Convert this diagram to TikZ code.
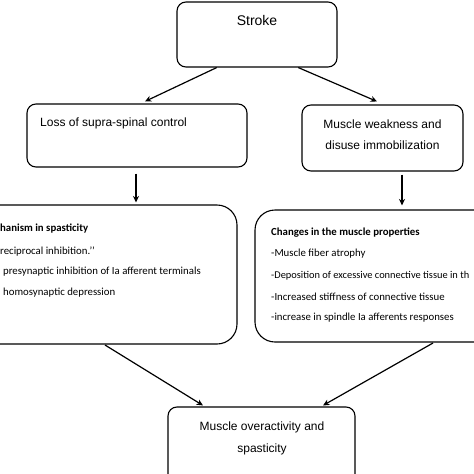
\documentclass[tikz,border=0pt]{standalone}
\usepackage{fontspec}
\setmainfont{Liberation Sans}
\newfontfamily\calfont{Carlito}
\usetikzlibrary{arrows.meta,calc}
\begin{document}
\begin{tikzpicture}[x=1pt,y=-1pt,
  box/.style={draw, line width=1.1pt, rounded corners=9pt, inner sep=0pt},
  bigbox/.style={draw, line width=1.1pt, rounded corners=20pt, inner sep=0pt},
  arr/.style={-{Stealth[length=6.5pt,width=6pt]}, line width=1.2pt},
  txt/.style={font=\fontsize{12}{14}\selectfont, inner sep=0pt},
  ctxt/.style={font=\calfont\fontsize{10.8}{12}\selectfont, inner sep=0pt, anchor=west},
  btxt/.style={font=\calfont\bfseries\fontsize{10.8}{12}\selectfont, inner sep=0pt, anchor=west}]
\useasboundingbox (0,0) rectangle (474,474);
\clip (0,0) rectangle (474,474);
% boxes
\node[box, minimum width=160pt, minimum height=65pt] (stroke) at (257,34.5) {};
\node[box, minimum width=220pt, minimum height=63pt] (loss) at (137,135.5) {};
\node[box, minimum width=161pt, minimum height=66pt] (weak) at (382.5,138) {};
\node[bigbox, minimum width=267pt, minimum height=139pt] (mech) at (103.5,274.5) {};
\node[bigbox, minimum width=245pt, minimum height=132pt] (chg) at (377.5,276) {};
\node[box, minimum width=187pt, minimum height=80pt] (over) at (261.5,447) {};
% texts
\node[txt, font=\fontsize{14}{16}\selectfont] (tstroke) at (257,20) {Stroke};
\node[txt, anchor=west] (tloss) at (40,123) {Loss of supra-spinal control};
\node[txt] (tweak1) at (382.5,124) {Muscle weakness and};
\node[txt] (tweak2) at (382.5,145.5) {disuse immobilization};
\node[txt] (tover1) at (262,427) {Muscle overactivity and};
\node[txt] (tover2) at (262,449) {spasticity};
\node[btxt] (m0) at (0,229) {hanism in spasticity};
\node[ctxt] (m1) at (0,252) {reciprocal inhibition.’’};
\node[ctxt] (m2) at (3,272) {presynaptic inhibition of Ia afferent terminals};
\node[ctxt] (m3) at (3,293) {homosynaptic depression};
\node[btxt] (c0) at (271,233) {Changes in the muscle properties};
\node[ctxt] (c1) at (271,254) {-Muscle fiber atrophy};
\node[ctxt, font=\calfont\fontsize{10.4}{12}\selectfont] (c2) at (271,276) {-Deposition of excessive connective tissue in th};
\node[ctxt] (c3) at (271,297) {-Increased stiffness of connective tissue};
\node[ctxt] (c4) at (271,318) {-increase in spindle Ia afferents responses};
% connectors
\draw[arr] ($(stroke.south west)!0.25!(stroke.south east)$) -- ([yshift=2pt]$(loss.north west)!0.536!(loss.north east)$);
\draw[arr] ($(stroke.south west)!0.756!(stroke.south east)$) -- ([yshift=3pt]$(weak.north west)!0.466!(weak.north east)$);
\draw[arr] ([yshift=-6pt]loss.south -| 136,0) -- ([yshift=2pt]mech.north -| 136,0);
\draw[arr] ([yshift=-3pt]weak.south -| 402,0) -- ([yshift=4pt]chg.north -| 402,0);
\draw[arr] (105,345) -- ([yshift=1pt]over.north -| 203,0);
\draw[arr] (433,343) -- ([yshift=1pt]over.north -| 323,0);
\end{tikzpicture}
\end{document}
